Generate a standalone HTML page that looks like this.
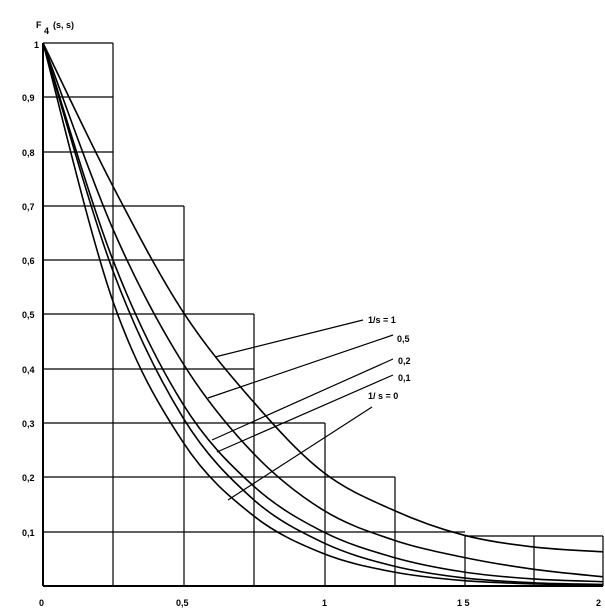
<!DOCTYPE html>
<html><head><meta charset="utf-8"><style>
html,body{margin:0;padding:0;background:#fff;}
svg{display:block;}
text{font-family:"Liberation Sans",sans-serif;font-weight:bold;font-size:9px;fill:#000;}
</style></head><body>
<svg id="s" width="605" height="611" viewBox="0 0 605 611" xmlns="http://www.w3.org/2000/svg">
<g stroke="#000" fill="none" stroke-width="1.2">
<line x1="43" y1="43" x2="43" y2="586" stroke-width="2"/>
<line x1="43" y1="586" x2="603" y2="586" stroke-width="2"/>
<line x1="43" y1="43" x2="113" y2="43"/>
<line x1="43" y1="97" x2="113" y2="97"/>
<line x1="43" y1="152" x2="113" y2="152"/>
<line x1="43" y1="206" x2="184" y2="206"/>
<line x1="43" y1="260" x2="184" y2="260"/>
<line x1="43" y1="314" x2="254" y2="314"/>
<line x1="43" y1="369" x2="254" y2="369"/>
<line x1="43" y1="423" x2="325" y2="423"/>
<line x1="43" y1="477" x2="395" y2="477"/>
<line x1="43" y1="532" x2="465" y2="532"/>
<line x1="465" y1="536" x2="603" y2="536"/>
<line x1="113" y1="43" x2="113" y2="586"/>
<line x1="184" y1="206" x2="184" y2="586"/>
<line x1="254" y1="314" x2="254" y2="586"/>
<line x1="325" y1="423" x2="325" y2="586"/>
<line x1="395" y1="477" x2="395" y2="586"/>
<line x1="465" y1="536" x2="465" y2="586"/>
<line x1="534" y1="536" x2="534" y2="586"/>
<line x1="603" y1="536" x2="603" y2="586"/>
<line x1="215" y1="357" x2="363" y2="320"/>
<line x1="208" y1="398" x2="393" y2="335"/>
<line x1="212" y1="440" x2="393" y2="359"/>
<line x1="217" y1="452" x2="393" y2="375"/>
<line x1="372" y1="407" x2="228" y2="500"/>
</g>
<g id="curves" stroke="#000" fill="none" stroke-width="1.6"></g>
<text x="34" y="48">1</text>
<text x="22" y="101">0,9</text>
<text x="22" y="156">0,8</text>
<text x="22" y="210">0,7</text>
<text x="22" y="264">0,6</text>
<text x="22" y="318">0,5</text>
<text x="22" y="373">0,4</text>
<text x="22" y="427">0,3</text>
<text x="22" y="481">0,2</text>
<text x="22" y="536">0,1</text>
<text x="39" y="606">0</text>
<text x="176" y="606">0,5</text>
<text x="322" y="606">1</text>
<text x="457" y="606">1 5</text>
<text x="596" y="606">2</text>
<text x="36" y="28" font-size="10">F</text>
<text x="44" y="34" font-size="7">4</text>
<text x="53" y="28">(s, s)</text>
<text x="368" y="323">1/s = 1</text>
<text x="397" y="342">0,5</text>
<text x="398" y="364">0,2</text>
<text x="398" y="381">0,1</text>
<text x="368" y="399">1/ s = 0</text>
</svg>
<script>
var d=[[1,.736,.505,.34,.21,.14,.094,.072,.063],
[1,.657,.41,.245,.14,.085,.053,.031,.017],
[1,.60,.335,.185,.10,.053,.026,.013,.008],
[1,.58,.31,.16,.08,.037,.015,.006,.003],
[1,.524,.265,.13,.06,.026,.01,.004,.001]];
function X(u){return 43+280*u;}function Y(v){return 586-543*v;}
var g=document.getElementById('curves');
d.forEach(function(a){var p=a.map(function(v,i){return[X(i*0.25),Y(v)];});
var s='M'+p[0][0]+','+p[0][1];
for(var i=0;i<p.length-1;i++){var p0=p[i-1]||p[i],p1=p[i],p2=p[i+1],p3=p[i+2]||p2;
s+=' C'+(p1[0]+(p2[0]-p0[0])/6)+','+(p1[1]+(p2[1]-p0[1])/6)+' '+(p2[0]-(p3[0]-p1[0])/6)+','+(p2[1]-(p3[1]-p1[1])/6)+' '+p2[0]+','+p2[1];}
var e=document.createElementNS('http://www.w3.org/2000/svg','path');e.setAttribute('d',s);g.appendChild(e);});
</script>
</body></html>
